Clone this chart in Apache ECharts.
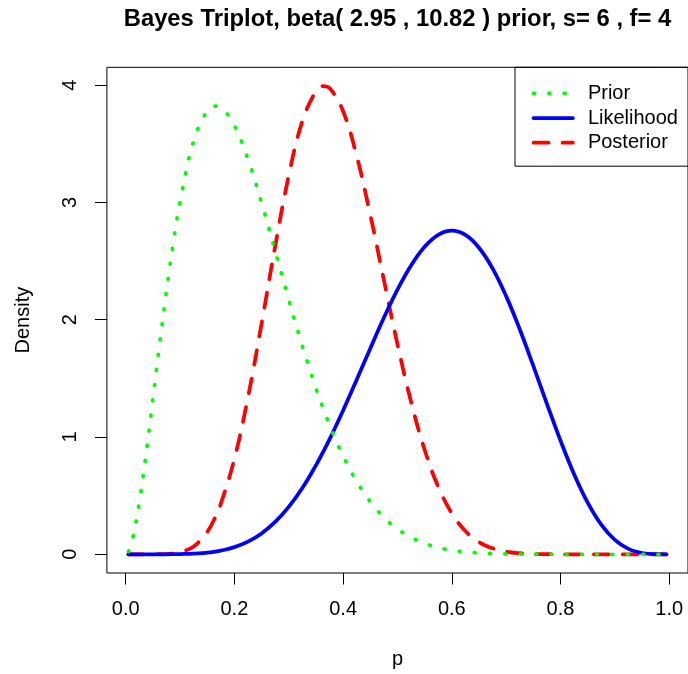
<!DOCTYPE html>
<html><head><meta charset="utf-8">
<script src="https://cdn.jsdelivr.net/npm/echarts@6/dist/echarts.min.js"></script>
<style>html,body{margin:0;padding:0;background:#fff}#c{width:688px;height:674px}</style>
</head><body><div id="c"></div>
<script>
const titleText = 'Bayes Triplot, beta( 2.95 , 10.82 ) prior, s= 6 , f= 4';
const seriesNames = ['Prior', 'Likelihood', 'Posterior'];
const p = [0.005, 0.0125, 0.025, 0.0375, 0.05, 0.0625, 0.075, 0.0875, 0.1, 0.125, 0.15, 0.1625, 0.175, 0.2, 0.225, 0.25, 0.275, 0.3, 0.325, 0.35, 0.3625, 0.375, 0.4, 0.425, 0.45, 0.475, 0.5, 0.525, 0.55, 0.575, 0.6, 0.625, 0.65, 0.675, 0.7, 0.725, 0.75, 0.775, 0.8, 0.825, 0.85, 0.875, 0.9, 0.925, 0.95, 0.975, 0.995];
const prior = [0.023, 0.130, 0.442, 0.859, 1.323, 1.795, 2.245, 2.653, 3.007, 3.523, 3.782, 3.822, 3.810, 3.654, 3.366, 2.996, 2.586, 2.171, 1.776, 1.416, 1.253, 1.102, 0.837, 0.620, 0.448, 0.315, 0.216, 0.144, 0.092, 0.058, 0.034, 0.020, 0.011, 0.006, 0.003, 0.001, 0.001, 0.000, 0, 0, 0, 0, 0, 0, 0, 0, 0];
const likelihood = [0, 0, 0, 0, 0.000, 0.000, 0.000, 0.001, 0.002, 0.005, 0.014, 0.021, 0.031, 0.061, 0.108, 0.178, 0.276, 0.404, 0.565, 0.758, 0.866, 0.980, 1.226, 1.488, 1.755, 2.016, 2.256, 2.462, 2.622, 2.724, 2.759, 2.723, 2.614, 2.438, 2.201, 1.919, 1.606, 1.283, 0.969, 0.683, 0.441, 0.253, 0.123, 0.046, 0.011, 0.001, 0.000];
const posterior = [0, 0, 0, 0, 0.000, 0.001, 0.002, 0.007, 0.017, 0.067, 0.191, 0.294, 0.431, 0.814, 1.339, 1.967, 2.626, 3.229, 3.691, 3.949, 3.992, 3.975, 3.777, 3.396, 2.894, 2.339, 1.792, 1.300, 0.891, 0.576, 0.350, 0.198, 0.104, 0.051, 0.022, 0.009, 0.003, 0.001, 0, 0, 0, 0, 0, 0, 0, 0, 0];
const xTicks = [0, 0.2, 0.4, 0.6, 0.8, 1.0];
const yTicks = [0, 1, 2, 3, 4];

const FONT = '"Liberation Sans", Arial, Helvetica, sans-serif';
const zip = ys => p.map((x, i) => [x, ys[i]]);
const chart = echarts.init(document.getElementById('c'), null, {renderer: 'canvas'});
const txt = {fontFamily: FONT, fontSize: 20, color: '#000'};
const option = {
  animation: false,
  backgroundColor: '#fff',
  title: {
    text: titleText, left: 397.5, textAlign: 'center', top: 7.5, padding: 0,
    textStyle: {fontFamily: FONT, fontSize: 23.8, fontWeight: 'bold', color: '#000'}
  },
  grid: {left: 106.9, top: 67.3, width: 581.2, height: 509.4, show: true, borderColor: '#000', borderWidth: 1, backgroundColor: 'transparent'},
  xAxis: {
    type: 'value', min: -0.0346, max: 1.0346,
    name: 'p', nameLocation: 'middle', nameGap: 76, nameTextStyle: txt,
    axisLine: {show: false, onZero: false}, splitLine: {show: false},
    axisTick: {show: true, inside: false, length: 11.5, customValues: xTicks, lineStyle: {color: '#000', width: 1}},
    axisLabel: Object.assign({customValues: xTicks, margin: 26, formatter: v => Number(v).toFixed(1)}, txt)
  },
  yAxis: {
    type: 'value', min: -0.1597, max: 4.1522,
    name: 'Density', nameLocation: 'middle', nameGap: 73.4, nameTextStyle: txt,
    axisLine: {show: false, onZero: false}, splitLine: {show: false},
    axisTick: {show: true, inside: false, length: 12, customValues: yTicks, lineStyle: {color: '#000', width: 1}},
    axisLabel: Object.assign({customValues: yTicks, rotate: 90, margin: 26, formatter: v => String(Math.round(v))}, txt)
  },
  legend: {
    orient: 'vertical', left: 515, top: 67.3, data: seriesNames, selectedMode: false,
    borderColor: '#000', borderWidth: 1, padding: [16, 40, 13.5, 16.7],
    itemWidth: 39.3, itemHeight: 14, itemGap: 4.7,
    itemStyle: {opacity: 0},
    lineStyle: {width: 3.75},
    textStyle: Object.assign({padding: [0, 0, 0, 10]}, txt)
  },
  series: [
    {name: 'Posterior', type: 'line', data: zip(posterior), symbol: 'none', smooth: 0.4,
     color: '#FF0000', lineStyle: {color: '#FF0000', width: 3.75, type: [15, 14], cap: 'round', join: 'round'}},
    {name: 'Likelihood', type: 'line', data: zip(likelihood), symbol: 'none', smooth: 0.4,
     color: '#0000FF', lineStyle: {color: '#0000FF', width: 3.75, type: 'solid', cap: 'round', join: 'round'}},
    {name: 'Prior', type: 'line', data: zip(prior), symbol: 'none', smooth: 0.4,
     color: '#00FF00', lineStyle: {color: '#00FF00', width: 3.75, type: [1, 14.3], cap: 'round', join: 'round'}}
  ]
};
chart.setOption(option);
</script>
</body></html>
